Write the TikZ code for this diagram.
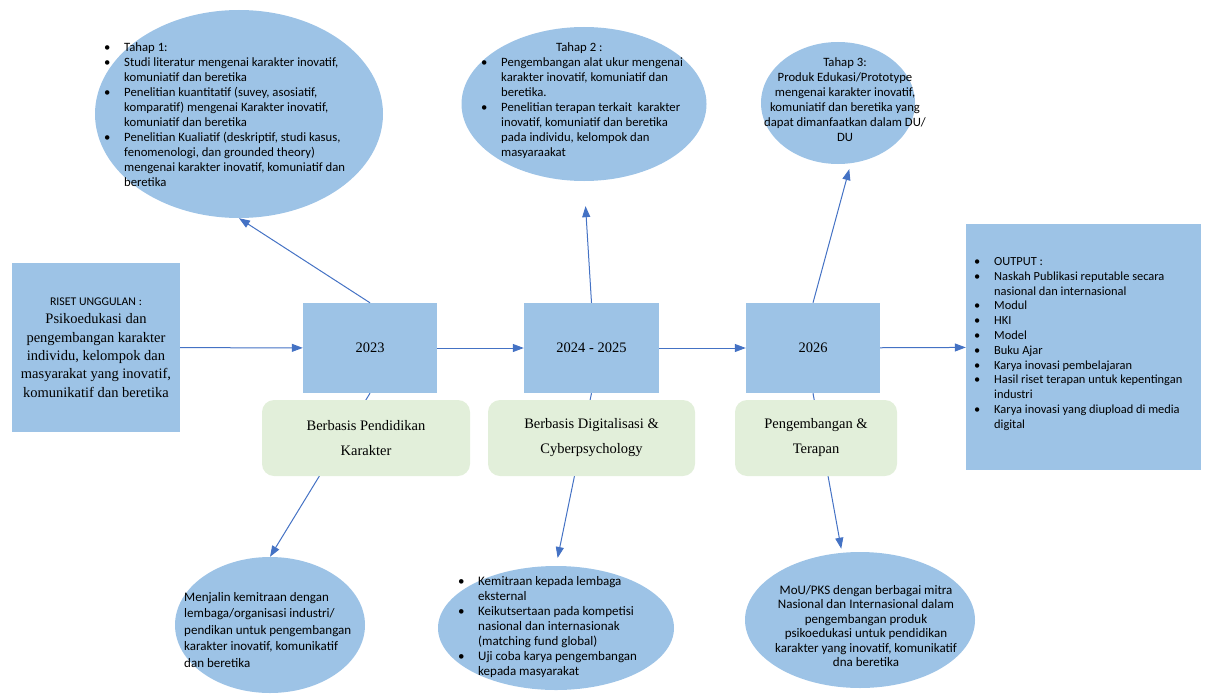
\documentclass[tikz,border=0pt]{standalone}
\usepackage{fontspec}
\setmainfont{Liberation Serif}
\newfontfamily\carl{Carlito}
\usetikzlibrary{shapes.geometric,arrows.meta,positioning}
\definecolor{skyblue}{RGB}{157,195,230}
\definecolor{palegreen}{RGB}{226,239,218}
\definecolor{linkblue}{RGB}{68,114,196}
\newcommand{\bl}{\makebox[20pt][l]{\textbullet}}
\newcommand{\ind}{\hspace*{20pt}}

\begin{document}
\begin{tikzpicture}
[x=1pt, y=-1pt,
box/.style={rectangle, fill=skyblue, inner sep=0, align=center, font=\fontsize{14.5}{18.3}\selectfont},
soft/.style={rectangle, rounded corners=12pt, fill=palegreen, minimum height=76, inner sep=0, align=center, font=\fontsize{14.5}{25}\selectfont},
bubble/.style={ellipse, fill=skyblue, inner sep=0},
note/.style={inner sep=0, font=\carl\fontsize{12.7}{15}\selectfont},
link/.style={draw=linkblue, line width=1pt, -{Triangle[length=11pt,width=8pt]}},
]
\useasboundingbox (0,0) rectangle (1206,693);

\node[bubble, minimum width=288, minimum height=208] (e1) at (239,114) {};
\node[bubble, minimum width=245, minimum height=154] (e2) at (584,104) {};
\node[bubble, minimum width=154, minimum height=122] (e3) at (838,103) {};
\node[bubble, minimum width=190, minimum height=136] (e4) at (270,625) {};
\node[bubble, minimum width=236, minimum height=124] (e5) at (556,628) {};
\node[bubble, minimum width=230, minimum height=136] (e6) at (860,620) {};

\node[box, minimum width=168, minimum height=169] (riset) at (96,347.5)
  {{\carl\fontsize{11.8}{18.3}\selectfont RISET UNGGULAN :}\\Psikoedukasi dan\\pengembangan karakter\\individu, kelompok dan\\masyarakat yang inovatif,\\komunikatif dan beretika};
\node[box, minimum width=134, minimum height=90] (y2023) at (370,348) {2023};
\node[box, minimum width=135, minimum height=90] (y2024) at (591.5,348) {2024 - 2025};
\node[box, minimum width=134, minimum height=90] (y2026) at (813,348) {2026};
\node[box, minimum width=235, minimum height=246] (output) at (1083.5,347) {};

\node[note, align=left, anchor=west] (t1) at (104,115)
  {\bl Tahap 1:\\ \bl Studi literatur mengenai karakter inovatif,\\ \ind komuniatif dan beretika\\
   \bl Penelitian kuantitatif (suvey, asosiatif,\\ \ind komparatif) mengenai Karakter inovatif,\\ \ind komuniatif dan beretika\\
   \bl Penelitian Kualiatif (deskriptif, studi kasus,\\ \ind fenomenologi, dan grounded theory)\\
   \ind mengenai karakter inovatif, komuniatif dan\\ \ind beretika};
\node[note, align=left, anchor=west] (t2) at (481,101)
  {\hspace*{75pt}Tahap 2 :\\ \bl Pengembangan alat ukur mengenai\\ \ind karakter inovatif, komuniatif dan\\ \ind beretika.\\
   \bl Penelitian terapan terkait\ \ karakter\\ \ind inovatif, komuniatif dan beretika\\ \ind pada individu, kelompok dan\\ \ind masyaraakat};
\node[note, align=center] (t3) at (845,100)
  {Tahap 3:\\Produk Edukasi/Prototype\\mengenai karakter inovatif,\\komuniatif dan beretika yang\\dapat dimanfaatkan dalam DU/\\DU};
\node[note, align=left, anchor=west, font=\carl\fontsize{12.4}{14.8}\selectfont] (t7) at (974,344)
  {\bl OUTPUT :\\ \bl Naskah Publikasi reputable secara\\ \ind nasional dan internasional\\ \bl Modul\\ \bl HKI\\ \bl Model\\ \bl Buku Ajar\\
   \bl Karya inovasi pembelajaran\\ \bl Hasil riset terapan untuk kepentingan\\ \ind industri\\ \bl Karya inovasi yang diupload di media\\ \ind digital};
\node[note, align=left, anchor=west, font=\carl\fontsize{13}{16.5}\selectfont] (t4) at (184,630)
  {Menjalin kemitraan dengan\\lembaga/organisasi industri/\\pendikan untuk pengembangan\\karakter inovatif, komunikatif\\dan beretika};
\node[note, align=left, anchor=west, font=\carl\fontsize{13}{15}\selectfont] (t5) at (458,627)
  {\bl Kemitraan kepada lembaga\\ \ind eksternal\\ \bl Keikutsertaan pada kompetisi\\ \ind nasional dan internasionak\\
   \ind (matching fund global)\\ \bl Uji coba karya pengembangan\\ \ind kepada masyarakat};
\node[note, align=center, font=\carl\fontsize{13}{14.5}\selectfont] (t6) at (866,626)
  {MoU/PKS dengan berbagai mitra\\Nasional dan Internasional dalam\\pengembangan produk\\psikoedukasi untuk pendidikan\\karakter yang inovatif, komunikatif\\dna beretika};

\draw[link] (riset) -- (y2023);
\draw[link] (y2023) -- (y2024);
\draw[link] (y2024) -- (y2026);
\draw[link] (y2026) -- (output);
\draw[link] (y2023.north) -- (e1.south);
\draw[link, shorten >=25pt] (y2024.north) -- (e2.south);
\draw[link, shorten >=6pt] (y2026.north) -- (e3.-78);
\draw[link] (y2023.south) -- (e4.north);
\draw[link, shorten >=8pt] (y2024.south) -- (e5.north);
\draw[link, shorten >=4pt] (y2026.south) -- (e6.105);

\node[soft, minimum width=208] (g1) at (366,438) {Berbasis Pendidikan\\Karakter};
\node[soft, minimum width=207] (g2) at (591.5,438) {Berbasis Digitalisasi \&\\Cyberpsychology};
\node[soft, minimum width=162] (g3) at (816,438) {Pengembangan \&\\Terapan};
\end{tikzpicture}
\end{document}
